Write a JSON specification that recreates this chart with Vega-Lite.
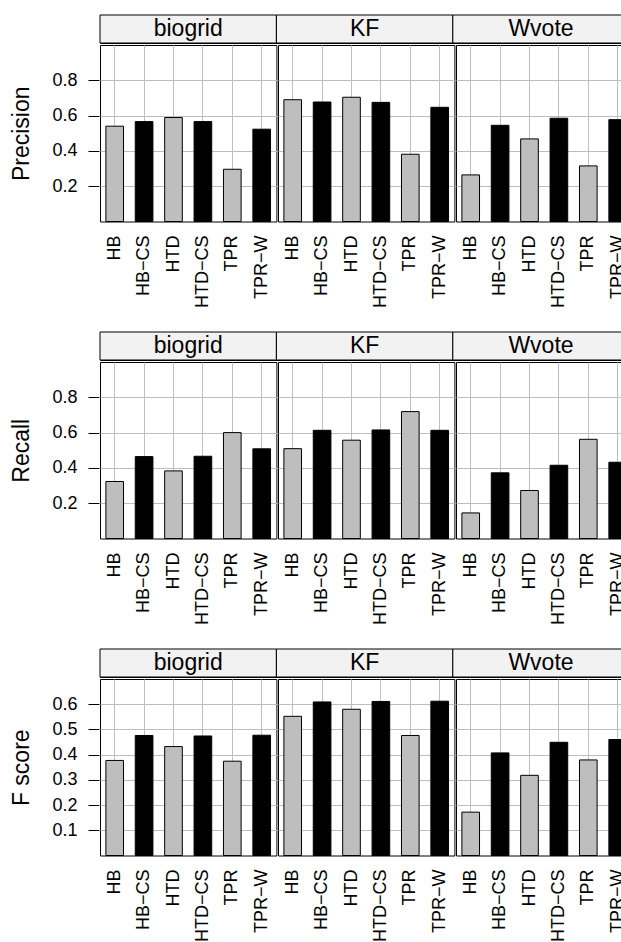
{
  "$schema": "https://vega.github.io/schema/vega-lite/v6.json",
  "padding": {"top": 14, "left": 10, "right": 0, "bottom": 0},
  "spacing": 23,
  "config": {
    "font": "Liberation Sans",
    "view": {"stroke": "black", "strokeWidth": 1},
    "axis": {
      "labelFont": "Liberation Sans", "labelFontSize": 18, "labelColor": "black",
      "titleFont": "Liberation Sans", "titleFontSize": 23, "titleFontWeight": "normal", "titleColor": "black",
      "gridColor": "#bebebe", "gridWidth": 1, "gridOpacity": 1, "domain": false
    }
  },
  "datasets": {
    "scores": [
      {"metric": "Precision", "dataset": "biogrid", "method": "HB", "value": 0.540},
      {"metric": "Precision", "dataset": "biogrid", "method": "HB−CS", "value": 0.566},
      {"metric": "Precision", "dataset": "biogrid", "method": "HTD", "value": 0.589},
      {"metric": "Precision", "dataset": "biogrid", "method": "HTD−CS", "value": 0.566},
      {"metric": "Precision", "dataset": "biogrid", "method": "TPR", "value": 0.296},
      {"metric": "Precision", "dataset": "biogrid", "method": "TPR−W", "value": 0.523},
      {"metric": "Precision", "dataset": "KF", "method": "HB", "value": 0.690},
      {"metric": "Precision", "dataset": "KF", "method": "HB−CS", "value": 0.677},
      {"metric": "Precision", "dataset": "KF", "method": "HTD", "value": 0.704},
      {"metric": "Precision", "dataset": "KF", "method": "HTD−CS", "value": 0.675},
      {"metric": "Precision", "dataset": "KF", "method": "TPR", "value": 0.381},
      {"metric": "Precision", "dataset": "KF", "method": "TPR−W", "value": 0.647},
      {"metric": "Precision", "dataset": "Wvote", "method": "HB", "value": 0.264},
      {"metric": "Precision", "dataset": "Wvote", "method": "HB−CS", "value": 0.545},
      {"metric": "Precision", "dataset": "Wvote", "method": "HTD", "value": 0.468},
      {"metric": "Precision", "dataset": "Wvote", "method": "HTD−CS", "value": 0.585},
      {"metric": "Precision", "dataset": "Wvote", "method": "TPR", "value": 0.315},
      {"metric": "Precision", "dataset": "Wvote", "method": "TPR−W", "value": 0.577},
      {"metric": "Recall", "dataset": "biogrid", "method": "HB", "value": 0.323},
      {"metric": "Recall", "dataset": "biogrid", "method": "HB−CS", "value": 0.464},
      {"metric": "Recall", "dataset": "biogrid", "method": "HTD", "value": 0.383},
      {"metric": "Recall", "dataset": "biogrid", "method": "HTD−CS", "value": 0.466},
      {"metric": "Recall", "dataset": "biogrid", "method": "TPR", "value": 0.600},
      {"metric": "Recall", "dataset": "biogrid", "method": "TPR−W", "value": 0.508},
      {"metric": "Recall", "dataset": "KF", "method": "HB", "value": 0.509},
      {"metric": "Recall", "dataset": "KF", "method": "HB−CS", "value": 0.613},
      {"metric": "Recall", "dataset": "KF", "method": "HTD", "value": 0.557},
      {"metric": "Recall", "dataset": "KF", "method": "HTD−CS", "value": 0.615},
      {"metric": "Recall", "dataset": "KF", "method": "TPR", "value": 0.719},
      {"metric": "Recall", "dataset": "KF", "method": "TPR−W", "value": 0.613},
      {"metric": "Recall", "dataset": "Wvote", "method": "HB", "value": 0.145},
      {"metric": "Recall", "dataset": "Wvote", "method": "HB−CS", "value": 0.372},
      {"metric": "Recall", "dataset": "Wvote", "method": "HTD", "value": 0.272},
      {"metric": "Recall", "dataset": "Wvote", "method": "HTD−CS", "value": 0.415},
      {"metric": "Recall", "dataset": "Wvote", "method": "TPR", "value": 0.562},
      {"metric": "Recall", "dataset": "Wvote", "method": "TPR−W", "value": 0.432},
      {"metric": "F score", "dataset": "biogrid", "method": "HB", "value": 0.377},
      {"metric": "F score", "dataset": "biogrid", "method": "HB−CS", "value": 0.476},
      {"metric": "F score", "dataset": "biogrid", "method": "HTD", "value": 0.432},
      {"metric": "F score", "dataset": "biogrid", "method": "HTD−CS", "value": 0.474},
      {"metric": "F score", "dataset": "biogrid", "method": "TPR", "value": 0.374},
      {"metric": "F score", "dataset": "biogrid", "method": "TPR−W", "value": 0.477},
      {"metric": "F score", "dataset": "KF", "method": "HB", "value": 0.552},
      {"metric": "F score", "dataset": "KF", "method": "HB−CS", "value": 0.609},
      {"metric": "F score", "dataset": "KF", "method": "HTD", "value": 0.580},
      {"metric": "F score", "dataset": "KF", "method": "HTD−CS", "value": 0.611},
      {"metric": "F score", "dataset": "KF", "method": "TPR", "value": 0.476},
      {"metric": "F score", "dataset": "KF", "method": "TPR−W", "value": 0.612},
      {"metric": "F score", "dataset": "Wvote", "method": "HB", "value": 0.172},
      {"metric": "F score", "dataset": "Wvote", "method": "HB−CS", "value": 0.407},
      {"metric": "F score", "dataset": "Wvote", "method": "HTD", "value": 0.318},
      {"metric": "F score", "dataset": "Wvote", "method": "HTD−CS", "value": 0.449},
      {"metric": "F score", "dataset": "Wvote", "method": "TPR", "value": 0.379},
      {"metric": "F score", "dataset": "Wvote", "method": "TPR−W", "value": 0.460}
    ],
    "panels": [
      {"dataset": "biogrid"}, {"dataset": "KF"}, {"dataset": "Wvote"}
    ]
  },
  "vconcat": [
    {
      "spacing": 0,
      "vconcat": [
        {
          "data": {"name": "panels"},
          "width": 529.2, "height": 28,
          "encoding": {
            "x": {"field": "dataset", "type": "nominal", "sort": ["biogrid", "KF", "Wvote"], "axis": null,
                  "scale": {"paddingInner": 0, "paddingOuter": 0}}
          },
          "layer": [
            {"mark": {"type": "rect", "fill": "#f2f2f2", "stroke": "black", "strokeWidth": 1}},
            {"mark": {"type": "text", "fontSize": 23, "color": "black", "baseline": "middle"},
             "encoding": {"text": {"field": "dataset"}}}
          ]
        },
        {
          "data": {"name": "scores"},
          "transform": [{"filter": "datum.metric == 'Precision'"}],
          "facet": {"column": {"field": "dataset", "type": "nominal", "sort": ["biogrid", "KF", "Wvote"],
                               "header": {"title": null, "labels": false}}},
          "spacing": 0,
          "spec": {
            "width": 176.4, "height": 176.5,
            "mark": {"type": "bar", "stroke": "black", "strokeWidth": 1, "width": {"band": 0.667}},
            "encoding": {
              "x": {"field": "method", "type": "nominal", "sort": null, "title": null,
                    "axis": {"labelAngle": -90, "ticks": false, "labelPadding": 12, "grid": true, "bandPosition": 0.5}},
              "y": {"field": "value", "type": "quantitative", "title": "Precision",
                    "scale": {"domain": [0, 1], "nice": false},
                    "axis": {"values": [0.2, 0.4, 0.6, 0.8], "tickSize": 11, "tickColor": "black", "labelPadding": 11, "titlePadding": 18}},
              "color": {"field": "method", "type": "nominal", "legend": null,
                        "scale": {"domain": ["HB", "HB−CS", "HTD", "HTD−CS", "TPR", "TPR−W"],
                                  "range": ["#bebebe", "black", "#bebebe", "black", "#bebebe", "black"]}}
            }
          }
        }
      ]
    },
    {
      "spacing": 0,
      "vconcat": [
        {
          "data": {"name": "panels"},
          "width": 529.2, "height": 28,
          "encoding": {
            "x": {"field": "dataset", "type": "nominal", "sort": ["biogrid", "KF", "Wvote"], "axis": null,
                  "scale": {"paddingInner": 0, "paddingOuter": 0}}
          },
          "layer": [
            {"mark": {"type": "rect", "fill": "#f2f2f2", "stroke": "black", "strokeWidth": 1}},
            {"mark": {"type": "text", "fontSize": 23, "color": "black", "baseline": "middle"},
             "encoding": {"text": {"field": "dataset"}}}
          ]
        },
        {
          "data": {"name": "scores"},
          "transform": [{"filter": "datum.metric == 'Recall'"}],
          "facet": {"column": {"field": "dataset", "type": "nominal", "sort": ["biogrid", "KF", "Wvote"],
                               "header": {"title": null, "labels": false}}},
          "spacing": 0,
          "spec": {
            "width": 176.4, "height": 176.5,
            "mark": {"type": "bar", "stroke": "black", "strokeWidth": 1, "width": {"band": 0.667}},
            "encoding": {
              "x": {"field": "method", "type": "nominal", "sort": null, "title": null,
                    "axis": {"labelAngle": -90, "ticks": false, "labelPadding": 12, "grid": true, "bandPosition": 0.5}},
              "y": {"field": "value", "type": "quantitative", "title": "Recall",
                    "scale": {"domain": [0, 1], "nice": false},
                    "axis": {"values": [0.2, 0.4, 0.6, 0.8], "tickSize": 11, "tickColor": "black", "labelPadding": 11, "titlePadding": 18}},
              "color": {"field": "method", "type": "nominal", "legend": null,
                        "scale": {"domain": ["HB", "HB−CS", "HTD", "HTD−CS", "TPR", "TPR−W"],
                                  "range": ["#bebebe", "black", "#bebebe", "black", "#bebebe", "black"]}}
            }
          }
        }
      ]
    },
    {
      "spacing": 0,
      "vconcat": [
        {
          "data": {"name": "panels"},
          "width": 529.2, "height": 28,
          "encoding": {
            "x": {"field": "dataset", "type": "nominal", "sort": ["biogrid", "KF", "Wvote"], "axis": null,
                  "scale": {"paddingInner": 0, "paddingOuter": 0}}
          },
          "layer": [
            {"mark": {"type": "rect", "fill": "#f2f2f2", "stroke": "black", "strokeWidth": 1}},
            {"mark": {"type": "text", "fontSize": 23, "color": "black", "baseline": "middle"},
             "encoding": {"text": {"field": "dataset"}}}
          ]
        },
        {
          "data": {"name": "scores"},
          "transform": [{"filter": "datum.metric == 'F score'"}],
          "facet": {"column": {"field": "dataset", "type": "nominal", "sort": ["biogrid", "KF", "Wvote"],
                               "header": {"title": null, "labels": false}}},
          "spacing": 0,
          "spec": {
            "width": 176.4, "height": 176.5,
            "mark": {"type": "bar", "stroke": "black", "strokeWidth": 1, "width": {"band": 0.667}},
            "encoding": {
              "x": {"field": "method", "type": "nominal", "sort": null, "title": null,
                    "axis": {"labelAngle": -90, "ticks": false, "labelPadding": 12, "grid": true, "bandPosition": 0.5}},
              "y": {"field": "value", "type": "quantitative", "title": "F score",
                    "scale": {"domain": [0, 0.7], "nice": false},
                    "axis": {"values": [0.1, 0.2, 0.3, 0.4, 0.5, 0.6], "tickSize": 11, "tickColor": "black", "labelPadding": 11, "titlePadding": 18}},
              "color": {"field": "method", "type": "nominal", "legend": null,
                        "scale": {"domain": ["HB", "HB−CS", "HTD", "HTD−CS", "TPR", "TPR−W"],
                                  "range": ["#bebebe", "black", "#bebebe", "black", "#bebebe", "black"]}}
            }
          }
        }
      ]
    }
  ]
}
